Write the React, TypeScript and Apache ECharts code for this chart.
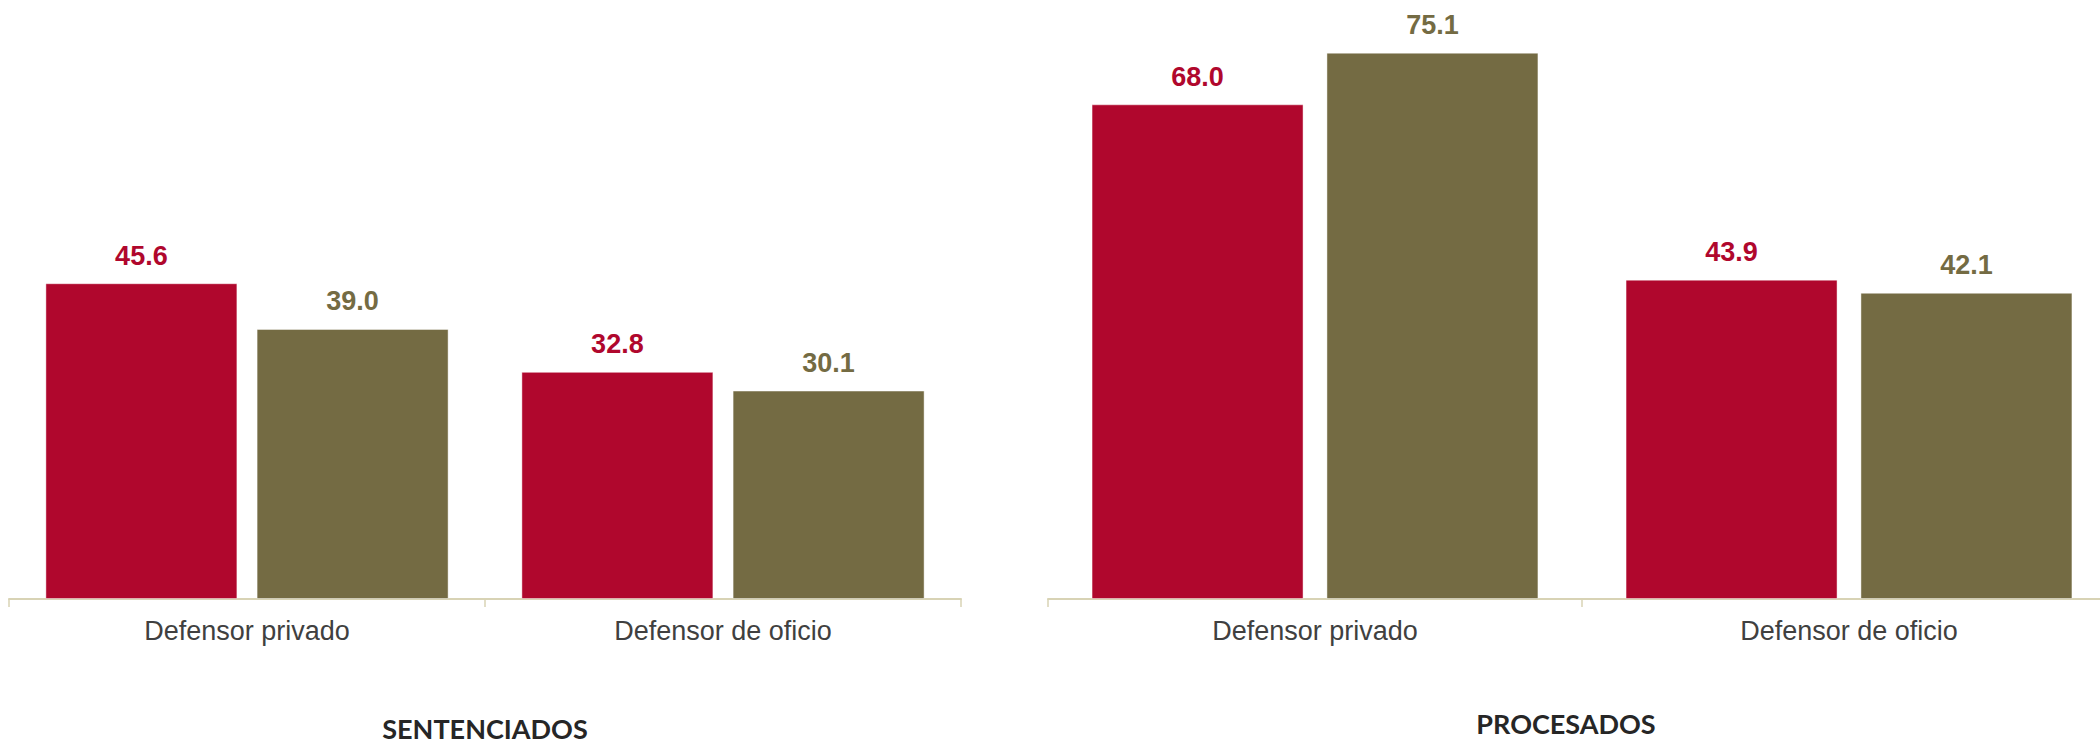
import React, { useEffect, useRef } from "react";
import * as echarts from "echarts";

const categories = ["Defensor privado", "Defensor de oficio"];
const sentenciadosA = [45.6, 32.8];
const sentenciadosB = [39.0, 30.1];
const procesadosA = [68.0, 43.9];
const procesadosB = [75.1, 42.1];
const panelTitles = ["SENTENCIADOS", "PROCESADOS"];

const RED = "#B0072D";
const OLIVE = "#746B43";
const AXIS = "#D8D3B5";

export default function App() {
  const ref = useRef<HTMLDivElement>(null);
  useEffect(() => {
    if (!ref.current) return;
    const chart = echarts.init(ref.current, null, { renderer: "svg" });
    const xAxisBase = (gridIndex: number) => ({
      type: "category",
      gridIndex,
      data: categories,
      axisLine: { show: true, lineStyle: { color: AXIS, width: 2 } },
      axisTick: { show: true, length: 8, lineStyle: { color: AXIS, width: 1.5 } },
      axisLabel: {
        color: "#404040",
        fontSize: 27,
        fontFamily: "Liberation Sans, Arial, sans-serif",
        margin: 18,
      },
      splitLine: { show: false },
    });
    const yAxisBase = (gridIndex: number) => ({
      type: "value",
      gridIndex,
      min: 0,
      max: 80,
      show: false,
      splitLine: { show: false },
    });
    const barSeries = (
      data: number[],
      color: string,
      axisIndex: number,
      barWidth: number,
      barGap: string
    ) => ({
      type: "bar",
      xAxisIndex: axisIndex,
      yAxisIndex: axisIndex,
      data,
      barWidth,
      barGap,
      itemStyle: { color, borderColor: "rgba(255,255,255,0.45)", borderWidth: 1 },
      label: {
        show: true,
        position: "top",
        distance: 14,
        color,
        fontSize: 27,
        fontWeight: "bold",
        fontFamily: "Liberation Sans, Arial, sans-serif",
        formatter: (p: any) => Number(p.value).toFixed(1),
      },
    });
    chart.setOption({
      animation: false,
      grid: [
        { left: 9, width: 952, top: 45, height: 554 },
        { left: 1048, width: 1068, top: 17, height: 582 },
      ],
      xAxis: [xAxisBase(0), xAxisBase(1)],
      yAxis: [yAxisBase(0), yAxisBase(1)],
      series: [
        barSeries(sentenciadosA, RED, 0, 192, "10%"),
        barSeries(sentenciadosB, OLIVE, 0, 192, "10%"),
        barSeries(procesadosA, RED, 1, 212, "10.8%"),
        barSeries(procesadosB, OLIVE, 1, 212, "10.8%"),
      ],
      graphic: [
        {
          type: "text",
          x: 485,
          y: 728,
          style: {
            text: panelTitles[0],
            fill: "#262626",
            font: "bold 27px Lato, 'Open Sans', sans-serif",
            textAlign: "center",
            textVerticalAlign: "middle",
          },
        },
        {
          type: "text",
          x: 1566,
          y: 723,
          style: {
            text: panelTitles[1],
            fill: "#262626",
            font: "bold 27px Lato, 'Open Sans', sans-serif",
            textAlign: "center",
            textVerticalAlign: "middle",
          },
        },
      ],
    });
    return () => chart.dispose();
  }, []);
  return (
    <div style={{ position: "fixed", left: 0, top: 0, width: 2100, height: 744, overflow: "hidden", background: "#fff" }}>
      <div ref={ref} style={{ position: "absolute", left: 0, top: 0, width: 2120, height: 744 }} />
    </div>
  );
}
